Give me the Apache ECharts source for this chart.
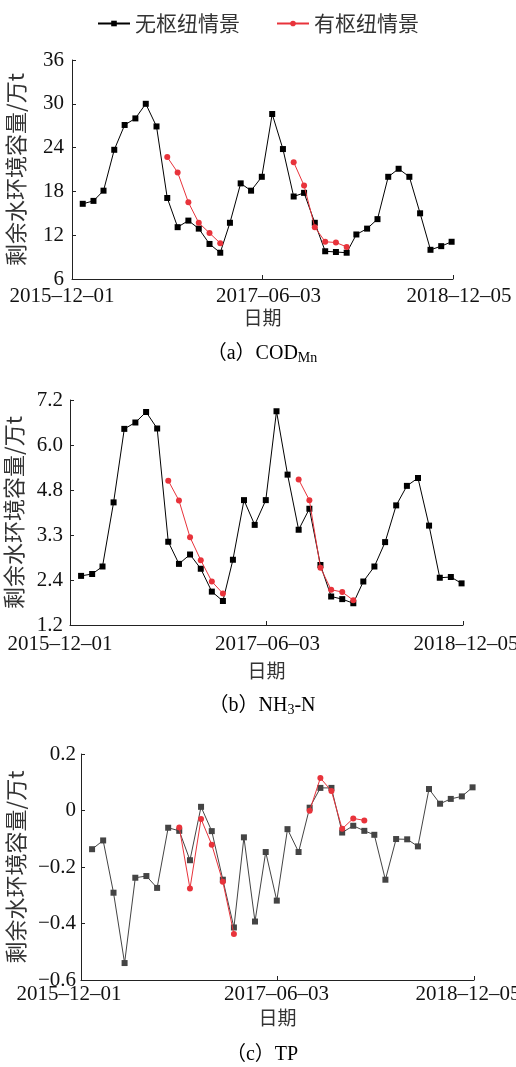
<!DOCTYPE html>
<html>
<head>
<meta charset="utf-8">
<script src="https://cdn.jsdelivr.net/npm/echarts@6/dist/echarts.min.js"></script>
<style>
html,body{margin:0;padding:0;background:#fff;}
#c{width:516px;height:1067px;}
</style>
</head>
<body>
<div id="c"></div>
<script>
// ---- data ----
const startDate = '2015-12-01';
const endDate = '2018-12-05';
const xTickLabels = ['2015–12–01', '2017–06–03', '2018–12–05'];
const dates = [
  '2016-01-01','2016-02-01','2016-03-01','2016-04-01','2016-05-01','2016-06-01',
  '2016-07-01','2016-08-01','2016-09-01','2016-10-01','2016-11-01','2016-12-01',
  '2017-01-01','2017-02-01','2017-03-01','2017-04-01','2017-05-01','2017-06-01',
  '2017-07-01','2017-08-01','2017-09-01','2017-10-01','2017-11-01','2017-12-01',
  '2018-01-01','2018-02-01','2018-03-01','2018-04-01','2018-05-01','2018-06-01',
  '2018-07-01','2018-08-01','2018-09-01','2018-10-01','2018-11-01','2018-12-01'
];
const seriesNames = ['无枢纽情景', '有枢纽情景'];

const codNo = [16.3,16.7,18.1,23.7,27.1,28.0,30.0,26.9,17.1,13.1,14.0,12.9,10.8,9.6,13.7,19.1,18.1,20.0,
               28.6,23.8,17.3,17.8,13.7,9.8,9.7,9.6,12.1,12.9,14.2,20.0,21.1,20.0,15.0,10.0,10.5,11.1];
const codYes = [null,null,null,null,null,null,null,null,22.7,20.6,16.5,13.7,12.3,10.9,null,null,null,null,
                null,null,22.0,18.8,13.1,11.1,11.0,10.4,null,null,null,null,null,null,null,null,null,null];

const nh3No = [2.51,2.56,2.76,4.47,6.43,6.60,6.88,6.44,3.42,2.83,3.08,2.70,2.09,1.84,2.94,4.53,3.87,4.53,
               6.90,5.21,3.74,4.30,2.80,1.96,1.89,1.78,2.36,2.76,3.41,4.39,4.91,5.12,3.85,2.46,2.48,2.31];
const nh3Yes = [null,null,null,null,null,null,null,null,5.05,4.52,3.54,2.93,2.36,2.04,null,null,null,null,
                null,null,5.08,4.53,2.73,2.14,2.08,1.86,null,null,null,null,null,null,null,null,null,null];

const tpNo = [-0.137,-0.106,-0.291,-0.540,-0.238,-0.232,-0.274,-0.061,-0.072,-0.176,0.013,-0.073,-0.245,-0.414,-0.095,-0.393,-0.147,-0.319,
              -0.066,-0.147,0.010,0.080,0.080,-0.078,-0.054,-0.072,-0.086,-0.245,-0.101,-0.102,-0.127,0.076,0.024,0.041,0.050,0.082];
const tpYes = [null,null,null,null,null,null,null,null,-0.060,-0.276,-0.030,-0.121,-0.252,-0.437,null,null,null,null,
               null,null,-0.001,0.115,0.069,-0.065,-0.028,-0.035,null,null,null,null,null,null,null,null,null,null];

const yTicksA = ['6','12','18','24','30','36'];
const yTicksB = ['1.2','2.4','3.3','4.8','6.0','7.2'];
const yTicksC = ['−0.6','−0.4','−0.2','0','0.2'];
const yName = '剩余水环境容量/万t';
const xName = '日期';

// ---- helpers ----
const DAY = 86400000;
function dayOf(s) { const p = s.split('-').map(Number); return Date.UTC(p[0], p[1]-1, p[2]) / DAY; }
const d0 = dayOf(startDate), dEnd = dayOf(endDate), span = dEnd - d0;
function pairs(vals) { return dates.map((d, i) => [dayOf(d) - d0, vals[i] == null ? '-' : vals[i]]); }

const serif = 'Liberation Serif, serif';
const cjk = 'Noto Sans CJK SC, sans-serif';
const txtColor = '#111';
const axisCol = '#222';

const grids = [
  {left: 72, width: 381, top: 60, height: 219, outerBoundsMode: 'none', containLabel: false},
  {left: 70, width: 393, top: 400, height: 225, outerBoundsMode: 'none', containLabel: false},
  {left: 81, width: 393, top: 754, height: 226, outerBoundsMode: 'none', containLabel: false}
];

function shiftStyle(s) {
  return {padding: s < 0 ? [0, -2 * s, 0, 0] : [0, 0, 0, 2 * s]};
}
function xAxis(gi, margin, nameGap, shifts) {
  return {
    type: 'value', gridIndex: gi, min: 0, max: span, interval: span / 2,
    axisLine: {onZero: false, lineStyle: {color: axisCol, width: 1}},
    axisTick: {inside: true, length: 4, lineStyle: {color: axisCol}},
    splitLine: {show: false},
    axisLabel: {
      margin: margin, color: txtColor, fontFamily: serif, fontSize: 21, showMinLabel: true, showMaxLabel: true, hideOverlap: false,
      formatter: function (v) { const i = Math.round(v / (span / 2)); return '{t' + i + '|' + xTickLabels[i] + '}'; },
      rich: {
        t0: Object.assign({fontFamily: serif, fontSize: 21, color: txtColor}, shiftStyle(shifts[0])),
        t1: Object.assign({fontFamily: serif, fontSize: 21, color: txtColor}, shiftStyle(shifts[1])),
        t2: Object.assign({fontFamily: serif, fontSize: 21, color: txtColor}, shiftStyle(shifts[2]))
      }
    },
    name: xName, nameLocation: 'middle', nameGap: nameGap,
    nameTextStyle: {fontFamily: cjk, fontSize: 19, color: '#333'}
  };
}
function yAxis(gi, min, max, interval, labels, margin, nameGap) {
  return {
    type: 'value', gridIndex: gi, min: min, max: max, interval: interval,
    axisLine: {show: true, onZero: false, lineStyle: {color: axisCol, width: 1}},
    axisTick: {show: true, inside: true, length: 4, lineStyle: {color: axisCol}},
    splitLine: {show: false},
    axisLabel: {
      margin: margin, color: txtColor, fontFamily: serif, fontSize: 21, showMinLabel: true, showMaxLabel: true,
      formatter: function (v) { return labels[Math.round((v - min) / interval)]; }
    },
    name: yName, nameLocation: 'middle', nameGap: nameGap, nameRotate: 90,
    nameTextStyle: {fontFamily: cjk, fontSize: 22, color: '#333'}
  };
}

function blackSeries(gi, vals, color) {
  return {
    name: seriesNames[0], type: 'line', xAxisIndex: gi, yAxisIndex: gi, data: pairs(vals),
    symbol: 'rect', symbolSize: 6, showSymbol: true, connectNulls: false, animation: false,
    lineStyle: {color: color, width: 1}, itemStyle: {color: color}, z: 2
  };
}
function redSeries(gi, vals) {
  return {
    name: seriesNames[1], type: 'line', xAxisIndex: gi, yAxisIndex: gi, data: pairs(vals),
    symbol: 'circle', symbolSize: 6, showSymbol: true, connectNulls: false, animation: false,
    lineStyle: {color: '#e8333b', width: 1}, itemStyle: {color: '#e8333b'}, z: 3
  };
}

function caption(y, main, sub, after) {
  const rich = {
    m: {fontFamily: serif + ', ' + cjk, fontSize: 20, color: '#222', lineHeight: 24},
    s: {fontFamily: serif, fontSize: 14, color: '#222', lineHeight: 24, padding: [9, 0, 0, 0]}
  };
  let t = '{m|' + main + '}';
  if (sub) t += '{s|' + sub + '}';
  if (after) t += '{m|' + after + '}';
  return {
    type: 'text', x: 262, y: y,
    style: {text: t, rich: rich, align: 'center', verticalAlign: 'middle'}
  };
}

const chart = echarts.init(document.getElementById('c'), null, {renderer: 'canvas'});
chart.setOption({
  backgroundColor: '#fff',
  animation: false,
  legend: {
    data: seriesNames, top: 8, left: 'center', itemWidth: 32, itemHeight: 7, itemGap: 36,
    textStyle: {fontFamily: cjk, fontSize: 21, color: '#333'}
  },
  grid: grids,
  xAxis: [xAxis(0, 7, 29, [-10, 6, 6]), xAxis(1, 9, 36, [-10, 1, 3]), xAxis(2, 4, 28, [-12, -1, -6])],
  yAxis: [
    yAxis(0, 6, 36, 6, yTicksA, 8, 45),
    yAxis(1, 1.2, 7.2, 1.2, yTicksB, 7, 45),
    yAxis(2, -0.6, 0.2, 0.2, yTicksC, 5, 51)
  ],
  series: [
    blackSeries(0, codNo, '#000'), redSeries(0, codYes),
    blackSeries(1, nh3No, '#000'), redSeries(1, nh3Yes),
    blackSeries(2, tpNo, '#444'), redSeries(2, tpYes)
  ],
  graphic: [
    caption(354, '（a）COD', 'Mn', ''),
    caption(706, '（b）NH', '3', '-N'),
    caption(1055, '（c）TP', '', '')
  ]
});
</script>
</body>
</html>
